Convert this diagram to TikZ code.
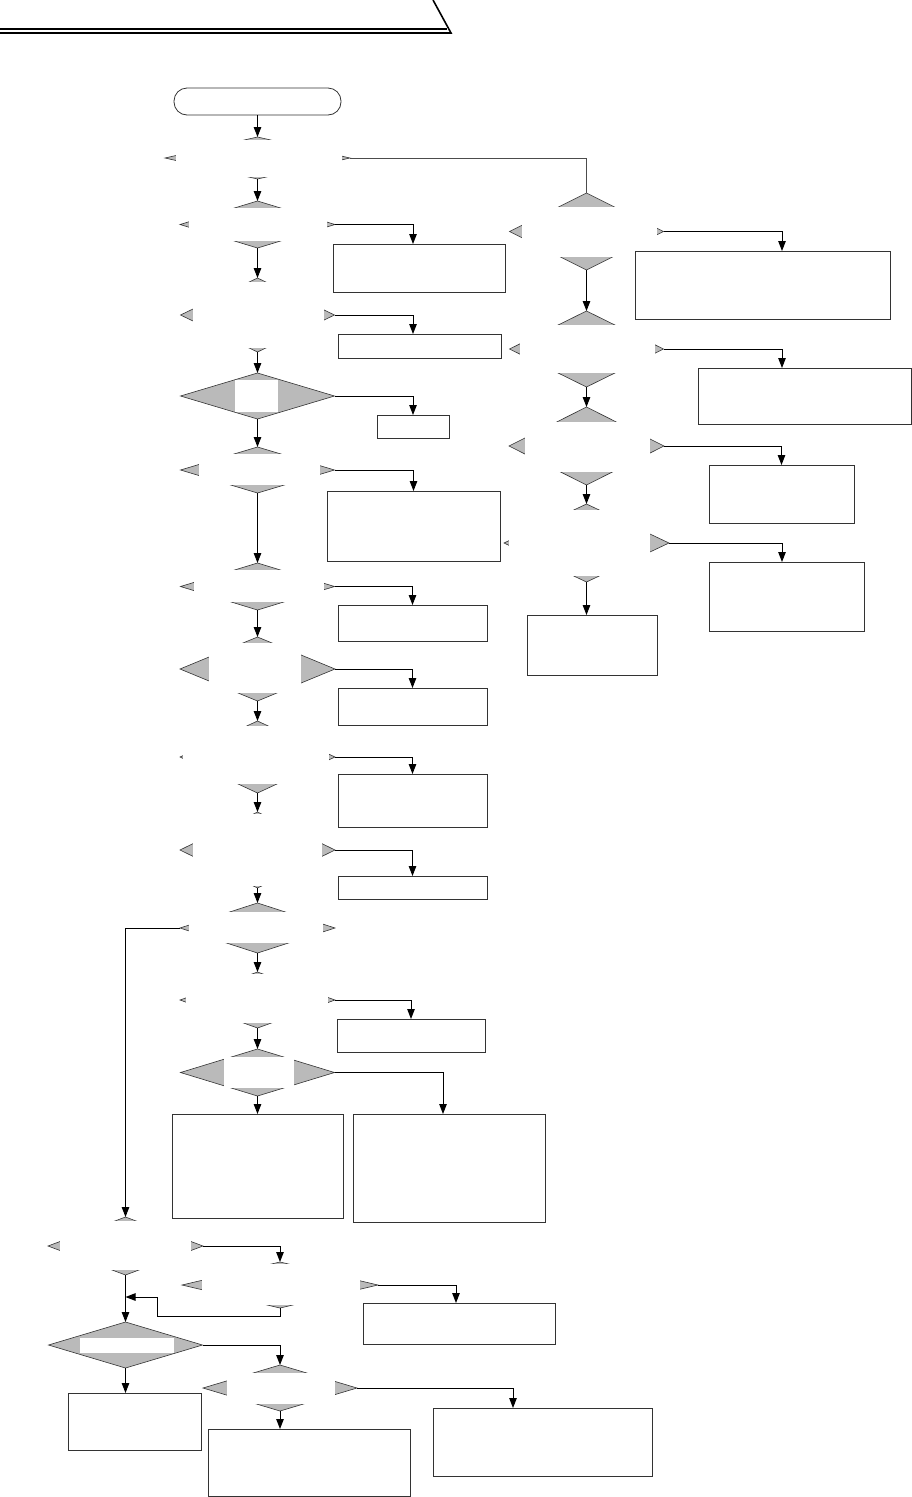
\documentclass[tikz,border=0pt]{standalone}
\usepackage{tikz}
\usetikzlibrary{arrows.meta, positioning, calc, shapes.geometric}

% white patch over the middle of a decision, only its tips stay grey
\newcommand{\hidetext}[5]{%
  \fill[white] ($(#1.west |- #1.north)+(#2,#4)$) rectangle ($(#1.east |- #1.south)+(-#3,-#5)$);}

\begin{document}
\begin{tikzpicture}[
        x=1pt, y=-1pt,
        dec/.style={diamond, draw=black!80, fill=black!27, line width=0.6pt, inner sep=0pt, outer sep=0pt},
        box/.style={rectangle, draw=black!80, fill=white, line width=0.8pt, inner sep=0pt, outer sep=0pt, anchor=north west},
        term/.style={box, rounded corners=13pt},
        arr/.style={-{Triangle[length=10pt,width=7.5pt]}, line width=1pt},
        link/.style={draw=black!70, line width=1pt},
    ]
    \useasboundingbox (0,0) rectangle (912,1497);

    % header tab
    \draw[line width=1.3pt] (0,29) -- (447,29);
    \draw[line width=1.6pt] (0,33) -- (451,33) -- (433,0);

    % start
    \node[term, minimum width=167, minimum height=27] (start) at (174,88) {};

    % main column
    \node[dec, minimum width=185, minimum height=42] (q1) at (257.5,158) {};
    \node[dec, minimum width=155, minimum height=47] (q2) at (257.5,224.5) {};
    \node[dec, minimum width=154, minimum height=74] (q3) at (257.5,315) {};
    \node[dec, minimum width=154, minimum height=46] (q4) at (257.5,396) {};
    \node[dec, minimum width=154, minimum height=46] (q5) at (257.5,470) {};
    \node[dec, minimum width=154, minimum height=47] (q6) at (257.5,586.5) {};
    \node[dec, minimum width=155, minimum height=64] (q7) at (257.5,669) {};
    \node[dec, minimum width=155, minimum height=72] (q8) at (257.5,757) {};
    \node[dec, minimum width=155, minimum height=76] (q9) at (257.5,850) {};
    \node[dec, minimum width=155, minimum height=50] (q10) at (257.5,928) {};
    \node[dec, minimum width=155, minimum height=56] (q11) at (257.5,1000) {};
    \node[dec, minimum width=154, minimum height=47] (q12) at (257.5,1072.5) {};
    \hidetext{q1}{11}{8}{2.5}{2.5}
    \hidetext{q2}{9}{8}{7}{7}
    \hidetext{q3}{12}{11}{4}{4}
    \hidetext{q4}{54}{57}{7}{7}
    \hidetext{q5}{18}{15}{7}{8}
    \hidetext{q6}{13}{11}{7}{8}
    \hidetext{q7}{29}{34}{6}{8}
    \hidetext{q8}{3}{6}{5}{9}
    \hidetext{q9}{13}{13}{2}{2}
    \hidetext{q10}{9}{12}{9}{10}
    \hidetext{q11}{6}{7}{2}{5}
    \hidetext{q12}{43}{41}{8}{8}

    % lower left part
    \node[dec, minimum width=155, minimum height=58] (q13) at (125.5,1246) {};
    \node[dec, minimum width=154, minimum height=46] (q14) at (125.5,1345) {};
    \node[dec, minimum width=196, minimum height=46] (q15) at (280,1285) {};
    \node[dec, minimum width=154, minimum height=46] (q16) at (280,1388) {};
    \hidetext{q13}{12}{12}{4}{5}
    \hidetext{q14}{31}{29}{16}{15}
    \hidetext{q15}{20}{18}{2}{3}
    \hidetext{q16}{24}{22}{8}{7}

    % right column
    \node[dec, minimum width=154, minimum height=77] (r1) at (586.5,231.5) {};
    \node[dec, minimum width=154, minimum height=76] (r2) at (586.5,349) {};
    \node[dec, minimum width=155, minimum height=78] (r3) at (586.5,446) {};
    \node[dec, minimum width=165, minimum height=78] (r4) at (586.5,543) {};
    \hidetext{r1}{12}{7}{14}{13}
    \hidetext{r2}{10}{9}{14}{14}
    \hidetext{r3}{16}{14}{15}{13}
    \hidetext{r4}{5}{19}{6}{6}

    % boxes
    \node[box, minimum width=172, minimum height=48] (a1) at (333,244) {};
    \node[box, minimum width=163, minimum height=24] (a2) at (338,334) {};
    \node[box, minimum width=72, minimum height=23] (a3) at (377,415) {};
    \node[box, minimum width=173, minimum height=70] (a4) at (327,491) {};
    \node[box, minimum width=149, minimum height=36] (a5) at (338,605) {};
    \node[box, minimum width=149, minimum height=37] (a6) at (338,688) {};
    \node[box, minimum width=149, minimum height=53] (a7) at (338,774) {};
    \node[box, minimum width=149, minimum height=23] (a8) at (338,876) {};
    \node[box, minimum width=148, minimum height=33] (a9) at (337,1019) {};
    \node[box, minimum width=171, minimum height=104] (a10) at (172,1114) {};
    \node[box, minimum width=192, minimum height=108] (a11) at (353,1114) {};
    \node[box, minimum width=192, minimum height=41] (a12) at (363,1303) {};
    \node[box, minimum width=133, minimum height=57] (a13) at (68,1393) {};
    \node[box, minimum width=202, minimum height=67] (a14) at (208,1429) {};
    \node[box, minimum width=219, minimum height=68] (a15) at (433,1408) {};
    \node[box, minimum width=255, minimum height=68] (ar1) at (635,251) {};
    \node[box, minimum width=213, minimum height=56] (ar2) at (698,368) {};
    \node[box, minimum width=145, minimum height=58] (ar3) at (709,465) {};
    \node[box, minimum width=155, minimum height=69] (ar4) at (709,562) {};
    \node[box, minimum width=130, minimum height=60] (ar5) at (527,615) {};

    % flow down the main column
    \draw[arr] (start.south) -- (q1.north);
    \draw[arr] (q1.south) -- (q2.north);
    \draw[arr] (q2.south) -- (q3.north);
    \draw[arr] (q3.south) -- (q4.north);
    \draw[arr] (q4.south) -- (q5.north);
    \draw[arr] (q5.south) -- (q6.north);
    \draw[arr] (q6.south) -- (q7.north);
    \draw[arr] (q7.south) -- (q8.north);
    \draw[arr] (q8.south) -- (q9.north);
    \draw[arr] (q9.south) -- (q10.north);
    \draw[arr] (q10.south) -- (q11.north);
    \draw[arr] (q11.south) -- (q12.north);
    \draw[arr] (q12.south) -- (q12.south |- a10.north);

    % side exits
    \draw[arr] (q2.east) -| ([xshift=-6]a1.north);
    \draw[arr] (q3.east) -| ([xshift=-6.5]a2.north);
    \draw[arr] (q4.east) -| (a3.north);
    \draw[arr] (q5.east) -| (a4.north);
    \draw[arr] (q6.east) -| (a5.north);
    \draw[arr] (q7.east) -| (a6.north);
    \draw[arr] (q8.east) -| (a7.north);
    \draw[arr] (q9.east) -| (a8.north);
    \draw[arr] (q11.east) -| (a9.north);
    \draw[arr] (q12.east) -| ([xshift=-6]a11.north);

    % right column
    \draw[link] (q1.east) -| (r1.north);
    \draw[arr] (r1.south) -- (r2.north);
    \draw[arr] (r2.south) -- (r3.north);
    \draw[arr] (r3.south) -- (r4.north);
    \draw[arr] (r4.south) -- (r4.south |- ar5.north);
    \draw[arr] (r1.east) -| ([xshift=19.5]ar1.north);
    \draw[arr] (r2.east) -| ([xshift=-22.5]ar2.north);
    \draw[arr] (r3.east) -| (ar3.north);
    \draw[arr] (r4.east) -| ([xshift=-4.5]ar4.north);

    % lower left part
    \coordinate (merge) at (125.5,1297);
    \draw[arr] (q10.west) -| (q13.north);
    \draw[arr] (q13.south) -- (q14.north);
    \draw[arr] (q13.east) -| (q15.north);
    \draw[arr] (q15.south) -- ++(0,8) -| ++(-123,-19) -- (merge);
    \draw[arr] (q15.east) -| ([xshift=-3]a12.north);
    \draw[arr] (q14.south) -- (q14.south |- a13.north);
    \draw[arr] (q14.east) -| (q16.north);
    \draw[arr] (q16.south) -- (q16.south |- a14.north);
    \draw[arr] (q16.east) -| ([xshift=-29.5]a15.north);
\end{tikzpicture}
\end{document}
